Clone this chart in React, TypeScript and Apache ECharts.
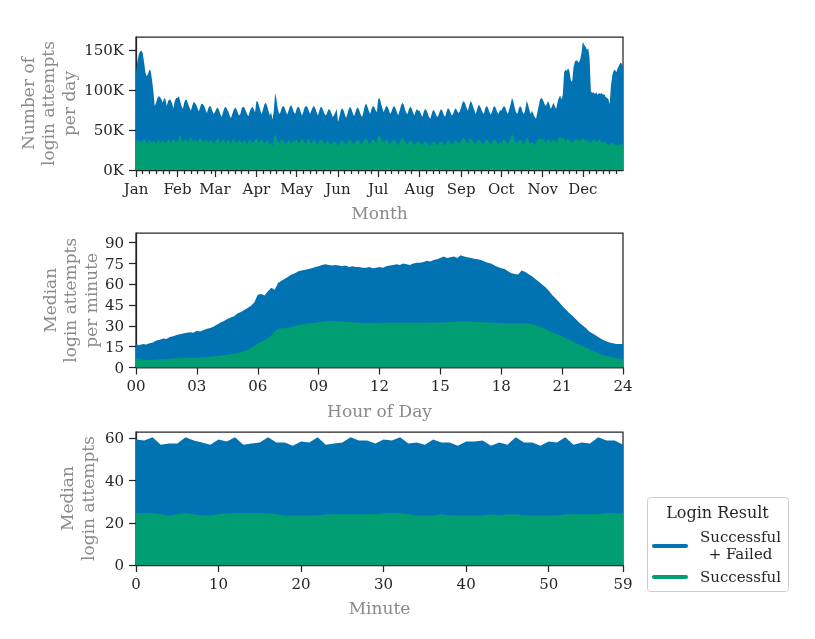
import { useEffect, useRef } from "react";
import * as echarts from "echarts";

const FONT = "DejaVu Serif";
const INK = "#262626";
const MUTED = "#8a8a8a";
const BLUE = "#0173b2";
const GREEN = "#029e73";

const MONTHS = ["Jan", "Feb", "Mar", "Apr", "May", "Jun", "Jul", "Aug", "Sep", "Oct", "Nov", "Dec"];
const MONTH_START_DAY = [0, 31, 59, 90, 120, 151, 181, 212, 243, 273, 304, 334];
const DAY_Y_TICKS = [0, 50, 100, 150];

// Login attempts per day, in thousands (Jan 1 .. Dec 31)
const dailyTotalK = [
  121, 135, 144, 148, 149, 146, 135, 122, 117, 120, 125, 124, 112, 98, 80, 84, 90, 92, 91, 88, 84, 90, 88, 80, 86, 88, 87, 83, 77, 86, 90,
  90, 92, 86, 80, 76, 84, 88, 87, 82, 78, 74, 80, 85, 84, 81, 77, 73, 79, 83, 82, 80, 75, 71, 77, 80, 79, 74, 70,
  72, 76, 78, 75, 70, 66, 72, 77, 79, 76, 73, 68, 65, 70, 75, 78, 76, 72, 68, 70, 77, 79, 78, 74, 70, 67, 73, 77, 79, 76, 72,
  86, 85, 80, 74, 70, 76, 82, 84, 80, 74, 68, 72, 63, 74, 96, 88, 76, 70, 72, 78, 80, 78, 73, 69, 74, 79, 81, 77, 72, 70,
  76, 79, 78, 73, 68, 72, 78, 80, 79, 75, 70, 74, 78, 80, 77, 72, 68, 74, 79, 78, 74, 70, 68, 72, 76, 75, 71, 66, 68, 72, 76,
  60, 66, 74, 77, 75, 70, 65, 70, 76, 79, 76, 71, 67, 72, 77, 78, 74, 69, 66, 72, 80, 83, 79, 74, 70, 76, 80, 79, 75, 72,
  88, 90, 84, 78, 72, 76, 80, 79, 75, 70, 73, 78, 80, 77, 72, 68, 74, 80, 84, 82, 76, 71, 70, 76, 79, 77, 72, 68, 73, 76, 74,
  74, 70, 66, 72, 76, 75, 71, 66, 64, 70, 75, 74, 70, 66, 68, 73, 76, 74, 69, 66, 72, 77, 76, 72, 68, 70, 75, 77, 74, 71, 73,
  78, 84, 86, 83, 78, 74, 80, 86, 84, 79, 74, 70, 76, 81, 80, 76, 72, 70, 77, 80, 78, 73, 69, 72, 78, 80, 77, 72, 70, 75,
  74, 77, 80, 78, 73, 70, 76, 82, 90, 86, 78, 72, 70, 76, 80, 78, 72, 70, 76, 86, 82, 75, 70, 74, 70, 66, 64, 72, 80, 88, 90,
  88, 84, 80, 82, 86, 82, 76, 80, 84, 80, 76, 84, 90, 93, 88, 94, 122, 125, 124, 127, 123, 112, 110, 128, 135, 137, 136, 134, 138, 146,
  160, 156, 154, 150, 152, 140, 98, 96, 97, 95, 97, 94, 96, 95, 96, 94, 95, 91, 90, 89, 82, 105, 118, 124, 125, 122, 127, 130, 134, 133, 128,
];

// Successful logins per day, in thousands
const dailySuccessK = [
  36, 38, 35, 37, 34, 36, 39, 37, 33, 35, 38, 36, 34, 37, 35, 33, 36, 38, 35, 34, 37, 36, 33, 35, 38, 37, 34, 36, 39, 37, 35,
  36, 40, 44, 38, 35, 37, 39, 36, 34, 38, 41, 37, 35, 38, 36, 34, 37, 40, 38, 35, 36, 39, 37, 34, 36, 38, 36, 33,
  35, 38, 40, 37, 34, 36, 39, 37, 33, 36, 38, 35, 33, 37, 39, 36, 34, 35, 38, 36, 33, 36, 37, 35, 32, 35, 38, 36, 34, 36, 37,
  39, 37, 34, 36, 38, 36, 33, 35, 37, 36, 32, 34, 30, 38, 46, 40, 35, 33, 36, 38, 37, 34, 32, 35, 37, 36, 33, 35, 37, 36,
  38, 35, 33, 36, 39, 37, 34, 33, 37, 39, 36, 33, 35, 38, 36, 33, 32, 36, 38, 37, 34, 32, 35, 37, 36, 33, 31, 34, 36, 35, 33,
  30, 33, 36, 38, 36, 33, 31, 34, 37, 38, 36, 33, 32, 35, 37, 38, 35, 33, 32, 35, 39, 40, 37, 34, 33, 36, 38, 37, 35, 34,
  42, 44, 39, 36, 34, 36, 38, 37, 34, 32, 35, 37, 38, 36, 33, 31, 34, 37, 41, 39, 35, 33, 32, 35, 37, 36, 33, 31, 34, 36, 35,
  35, 33, 31, 34, 36, 35, 33, 31, 30, 33, 36, 35, 33, 31, 32, 35, 36, 35, 32, 31, 34, 37, 36, 34, 32, 33, 36, 37, 35, 33, 34,
  36, 39, 40, 38, 35, 33, 37, 40, 38, 36, 34, 32, 35, 38, 37, 35, 33, 32, 36, 38, 37, 34, 32, 34, 37, 38, 36, 33, 32, 35,
  34, 36, 38, 37, 34, 32, 36, 40, 45, 42, 37, 34, 33, 36, 38, 37, 34, 32, 36, 41, 39, 35, 33, 35, 33, 31, 34, 37, 39, 40, 38,
  39, 37, 35, 36, 38, 37, 34, 36, 38, 37, 34, 37, 40, 42, 38, 41, 39, 37, 38, 40, 37, 35, 34, 36, 38, 37, 39, 36, 37, 38,
  40, 38, 37, 36, 37, 35, 34, 36, 38, 37, 35, 36, 38, 37, 35, 34, 36, 34, 33, 32, 31, 33, 34, 33, 32, 31, 30, 31, 32, 33, 31,
];

// Median login attempts per minute, sampled every 10 minutes (00:00 .. 24:00)
const INTRADAY_TOTAL_STEP_MIN = 10;
const intradayTotal = [
  16.5, 16, 17, 16.5, 17.5, 18,
  19.5, 20, 21, 20.5, 22, 22.5,
  23.5, 24, 24.5, 25, 25.5, 25,
  26.5, 26, 27, 28, 28.5, 29.5,
  31, 32.5, 33.5, 35, 36, 37,
  39, 40, 41.5, 43, 44.5, 47,
  52.5, 53, 52, 55, 57.5, 56,
  61, 62.5, 64, 65.5, 67, 68,
  69.5, 70, 70.5, 71, 71.5, 72.5,
  73, 74, 74.5, 74, 73.5, 74,
  73.5, 73, 73.5, 72.5, 73, 72.5,
  72.5, 72, 72, 72.5, 71.5, 72,
  72.5, 72, 73, 73.5, 74, 74.5,
  74, 75, 74.5, 74, 75, 75.5,
  75.5, 76, 77, 76.5, 77.5, 78,
  79, 80, 79, 79.5, 80, 79,
  81, 80, 79.5, 79, 78.5, 78,
  77.5, 76.5, 75.5, 75, 73.5, 72.5,
  71.5, 71, 69.5, 68, 67.5, 67,
  70, 69, 67.5, 66, 64, 62,
  60, 58, 55.5, 52.5, 50, 47.5,
  44.5, 42, 39.5, 37.5, 35, 32.5,
  30.5, 28.5, 26, 24.5, 23, 21.5,
  20, 19, 18, 17.5, 17, 17,
  17,
];

// Median successful logins per minute, sampled every 30 minutes
const INTRADAY_SUCCESS_STEP_MIN = 30;
const intradaySuccess = [
  6.6, 5.2, 5.8, 6.2, 6.6, 6.8, 7.1, 7.6, 8.3, 9.2, 10.2, 12.6,
  17.3, 20.9, 28, 28.7, 30.8, 31.8, 32.7, 33.6, 33.2, 32.8, 32.2, 32,
  32.2, 32.2, 32.2, 32.2, 32.2, 32.4, 32.5, 32.8, 33.2, 33.2, 32.7, 32.4,
  32, 31.8, 32, 31.3, 29, 25.5, 22.5, 19, 15.5, 12, 9, 7,
  6,
];
const HOUR_TICKS = [0, 3, 6, 9, 12, 15, 18, 21, 24];
const HOUR_Y_TICKS = [0, 15, 30, 45, 60, 75, 90];

// Median login attempts by minute of the hour (0 .. 59)
const minuteTotal = [
  59.5, 59, 60.5, 57, 57.5, 57.5, 60.5, 59, 58, 57,
  59.5, 58.5, 60.5, 57, 57.5, 58, 60.5, 58, 58, 56.5,
  58.5, 58, 60.5, 57, 57.5, 58, 60.5, 59, 59, 57.5,
  59.5, 59, 60.5, 57.5, 58, 57, 59.5, 58, 58, 56.5,
  58.5, 58.5, 59, 56.5, 58, 57, 60.5, 58, 58, 56.5,
  58.5, 58, 60.5, 57, 58, 57.5, 60.5, 59, 59, 57,
];
const minuteSuccess = [
  24.5, 24.5, 24.5, 24, 23.5, 24, 24.5, 24, 23.5, 23.5,
  24, 24.5, 24.5, 24.5, 24.5, 24.5, 24.5, 24, 23.5, 23.5,
  23.5, 23.5, 23.5, 24, 24, 24, 24, 24, 24, 24,
  24.5, 24.5, 24.5, 24, 23.5, 23.5, 23.5, 24, 23.5, 23.5,
  23.5, 23.5, 23.5, 24, 23.5, 24, 24, 23.5, 23.5, 23.5,
  23.5, 23.5, 24, 24, 24, 24, 24, 24.5, 24.5, 24.5,
];
const MINUTE_TICKS = [0, 10, 20, 30, 40, 50, 59];
const MINUTE_Y_TICKS = [0, 20, 40, 60];

const SERIES_TOTAL = "Successful + Failed";
const SERIES_SUCCESS = "Successful";

function areaSeries(name: string, color: string, data: number[][], axisIndex: number, xAxisIndex: number) {
  return {
    type: "line",
    name,
    data,
    xAxisIndex,
    yAxisIndex: axisIndex,
    symbol: "none",
    showSymbol: false,
    silent: true,
    lineStyle: { width: 0, color },
    itemStyle: { color },
    areaStyle: { color, opacity: 1 },
  };
}

const tickLabel = { fontFamily: FONT, fontSize: 15, color: INK };
const axisTitle = { fontFamily: FONT, fontSize: 17, color: MUTED, lineHeight: 20.5 };
const axisLine = { show: true, lineStyle: { color: INK, width: 1.25 } };
const tickLine = { color: INK, width: 1.25 };

function xValueAxis(gridIndex: number, min: number, max: number, ticks: number[], name: string, formatter: (v: number) => string) {
  return {
    type: "value",
    gridIndex,
    position: "bottom",
    min,
    max,
    name,
    nameLocation: "middle",
    nameGap: 33,
    nameMoveOverlap: false,
    nameTextStyle: axisTitle,
    axisLine,
    splitLine: { show: false },
    axisTick: { show: true, length: 7, lineStyle: tickLine, customValues: ticks },
    axisLabel: { ...tickLabel, margin: 11, customValues: ticks, formatter },
  };
}

function yValueAxis(gridIndex: number, max: number, ticks: number[], name: string, nameGap: number, formatter?: string) {
  return {
    type: "value",
    gridIndex,
    min: 0,
    max,
    name,
    nameLocation: "middle",
    nameGap,
    nameMoveOverlap: false,
    nameTextStyle: axisTitle,
    axisLine,
    splitLine: { show: false },
    axisTick: { show: true, length: 7, lineStyle: tickLine, customValues: ticks },
    axisLabel: { ...tickLabel, margin: 12, customValues: ticks, formatter: formatter || "{value}" },
  };
}

export default function App() {
  const ref = useRef<HTMLDivElement>(null);

  useEffect(() => {
    if (!ref.current) return;
    const chart = echarts.init(ref.current, null, { renderer: "svg" });

    // Minor ticks on the 6th, 11th, 16th, 21st and 26th of each month
    const minorDays: number[] = [];
    MONTH_START_DAY.forEach((start) => {
      [5, 10, 15, 20, 25].forEach((d) => minorDays.push(start + d));
    });

    const gridBase = { left: 136, width: 487, show: true, borderColor: INK, borderWidth: 1.25 };

    chart.setOption({
      animation: false,
      textStyle: { fontFamily: FONT },
      grid: [
        { ...gridBase, top: 37, height: 133 },
        { ...gridBase, top: 233, height: 134.5 },
        { ...gridBase, top: 432, height: 133 },
      ],
      xAxis: [
        xValueAxis(0, 0, dailyTotalK.length - 1, MONTH_START_DAY, "Month", (v: number) => MONTHS[MONTH_START_DAY.indexOf(v)] || ""),
        {
          type: "value",
          gridIndex: 0,
          position: "bottom",
          offset: 0,
          min: 0,
          max: dailyTotalK.length - 1,
          axisLine: { show: false },
          splitLine: { show: false },
          axisTick: { show: true, length: 4, lineStyle: tickLine, customValues: minorDays },
          axisLabel: { show: false },
        },
        xValueAxis(1, 0, 24 * 60, HOUR_TICKS.map((h) => h * 60), "Hour of Day", (v: number) => String(v / 60).padStart(2, "0")),
        xValueAxis(2, 0, 59, MINUTE_TICKS, "Minute", (v: number) => String(v)),
      ],
      yAxis: [
        yValueAxis(0, 166, DAY_Y_TICKS, "Number of\nlogin attempts\nper day", 57, "{value}K"),
        yValueAxis(1, 97, HOUR_Y_TICKS, "Median\nlogin attempts\nper minute", 35),
        yValueAxis(2, 63, MINUTE_Y_TICKS, "Median\nlogin attempts", 38),
      ],
      series: [
        areaSeries(SERIES_TOTAL, BLUE, dailyTotalK.map((v, i) => [i, v]), 0, 0),
        areaSeries(SERIES_SUCCESS, GREEN, dailySuccessK.map((v, i) => [i, v]), 0, 0),
        areaSeries(SERIES_TOTAL, BLUE, intradayTotal.map((v, i) => [i * INTRADAY_TOTAL_STEP_MIN, v]), 1, 2),
        areaSeries(SERIES_SUCCESS, GREEN, intradaySuccess.map((v, i) => [i * INTRADAY_SUCCESS_STEP_MIN, v]), 1, 2),
        areaSeries(SERIES_TOTAL, BLUE, minuteTotal.map((v, i) => [i, v]), 2, 3),
        areaSeries(SERIES_SUCCESS, GREEN, minuteSuccess.map((v, i) => [i, v]), 2, 3),
      ],
      graphic: [
        {
          type: "rect",
          shape: { x: 647.5, y: 497.5, width: 141, height: 94, r: 3 },
          style: { fill: "#ffffff", stroke: "#cccccc", lineWidth: 1 },
        },
        {
          type: "text",
          x: 717.5,
          y: 512.5,
          style: { text: "Login Result", fontFamily: FONT, fontSize: 16, fill: INK, align: "center", verticalAlign: "middle", textAlign: "center", textVerticalAlign: "middle" },
        },
        {
          type: "line",
          shape: { x1: 654, y1: 546, x2: 686, y2: 546 },
          style: { stroke: BLUE, lineWidth: 4, lineCap: "round" },
        },
        {
          type: "text",
          x: 740.5,
          y: 545,
          style: { text: "Successful\n+ Failed", fontFamily: FONT, fontSize: 15, lineHeight: 17, fill: INK, align: "center", verticalAlign: "middle", textAlign: "center", textVerticalAlign: "middle" },
        },
        {
          type: "line",
          shape: { x1: 654, y1: 577, x2: 686, y2: 577 },
          style: { stroke: GREEN, lineWidth: 4, lineCap: "round" },
        },
        {
          type: "text",
          x: 740.5,
          y: 577,
          style: { text: "Successful", fontFamily: FONT, fontSize: 15, fill: INK, align: "center", verticalAlign: "middle", textAlign: "center", textVerticalAlign: "middle" },
        },
      ],
    });

    return () => chart.dispose();
  }, []);

  return <div ref={ref} style={{ position: "fixed", left: 0, top: 0, width: 815, height: 639 }} />;
}
